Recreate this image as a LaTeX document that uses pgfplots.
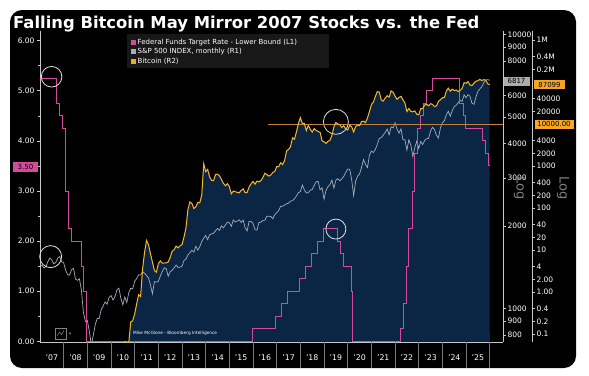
\documentclass[border=0pt]{standalone}
\usepackage{pgfplots}
\usepackage{pgfplotstable}
\pgfplotsset{compat=1.18}
\usepackage{fontspec}
\setmainfont{DejaVu Sans}
\definecolor{navy}{RGB}{11,37,69}
\definecolor{btc}{RGB}{245,184,46}
\definecolor{spx}{RGB}{168,174,182}
\definecolor{fed}{RGB}{214,74,156}
\definecolor{axisc}{RGB}{200,200,200}
\definecolor{legbg}{RGB}{24,24,24}
\definecolor{tago}{RGB}{245,166,35}
\definecolor{hline}{RGB}{196,128,62}
\pgfplotstableread[row sep=\\]{v\\
1418.3\\
1438.2\\ 1406.8\\ 1420.9\\ 1482.4\\ 1530.6\\ 1503.4\\ 1455.3\\ 1473.9\\ 1526.8\\ 1549.4\\ 1481.1\\ 1468.4\\
1378.6\\ 1330.6\\ 1322.7\\ 1385.6\\ 1400.4\\ 1280.0\\ 1267.4\\ 1282.8\\ 1166.4\\ 968.8\\ 896.2\\ 903.3\\
825.9\\ 735.1\\ 797.9\\ 872.8\\ 919.1\\ 919.3\\ 987.5\\ 1020.6\\ 1057.1\\ 1036.2\\ 1095.6\\ 1115.1\\
1073.9\\ 1104.5\\ 1169.4\\ 1186.7\\ 1089.4\\ 1030.7\\ 1101.6\\ 1049.3\\ 1141.2\\ 1183.3\\ 1180.6\\ 1257.6\\
1286.1\\ 1327.2\\ 1325.8\\ 1363.6\\ 1345.2\\ 1320.6\\ 1292.3\\ 1218.9\\ 1131.4\\ 1253.3\\ 1247.0\\ 1257.6\\
1312.4\\ 1365.7\\ 1408.5\\ 1397.9\\ 1310.3\\ 1362.2\\ 1379.3\\ 1406.6\\ 1440.7\\ 1412.2\\ 1416.2\\ 1426.2\\
1498.1\\ 1514.7\\ 1569.2\\ 1597.6\\ 1630.7\\ 1606.3\\ 1685.7\\ 1633.0\\ 1681.6\\ 1756.5\\ 1805.8\\ 1848.4\\
1782.6\\ 1859.5\\ 1872.3\\ 1883.9\\ 1923.6\\ 1960.2\\ 1930.7\\ 2003.4\\ 1972.3\\ 2018.1\\ 2067.6\\ 2058.9\\
1995.0\\ 2104.5\\ 2067.9\\ 2085.5\\ 2107.4\\ 2063.1\\ 2103.8\\ 1972.2\\ 1920.0\\ 2079.4\\ 2080.4\\ 2043.9\\
1940.2\\ 1932.2\\ 2059.7\\ 2065.3\\ 2096.9\\ 2098.9\\ 2173.6\\ 2170.9\\ 2168.3\\ 2126.2\\ 2198.8\\ 2238.8\\
2278.9\\ 2363.6\\ 2362.7\\ 2384.2\\ 2411.8\\ 2423.4\\ 2470.3\\ 2471.7\\ 2519.4\\ 2575.3\\ 2647.6\\ 2673.6\\
2823.8\\ 2713.8\\ 2640.9\\ 2648.1\\ 2705.3\\ 2718.4\\ 2816.3\\ 2901.5\\ 2914.0\\ 2711.7\\ 2760.2\\ 2506.9\\
2704.1\\ 2784.5\\ 2834.4\\ 2945.8\\ 2752.1\\ 2941.8\\ 2980.4\\ 2926.5\\ 2976.7\\ 3037.6\\ 3141.0\\ 3230.8\\
3225.5\\ 2954.2\\ 2584.6\\ 2912.4\\ 3044.3\\ 3100.3\\ 3271.1\\ 3500.3\\ 3363.0\\ 3270.0\\ 3621.6\\ 3756.1\\
3714.2\\ 3811.2\\ 3972.9\\ 4181.2\\ 4204.1\\ 4297.5\\ 4395.3\\ 4522.7\\ 4307.5\\ 4605.4\\ 4567.0\\ 4766.2\\
4515.6\\ 4373.9\\ 4530.4\\ 4131.9\\ 4132.2\\ 3785.4\\ 4130.3\\ 3955.0\\ 3585.6\\ 3872.0\\ 4080.1\\ 3839.5\\
4076.6\\ 3970.2\\ 4109.3\\ 4169.5\\ 4179.8\\ 4450.4\\ 4589.0\\ 4507.7\\ 4288.1\\ 4193.8\\ 4567.8\\ 4769.8\\
4845.7\\ 5096.3\\ 5254.4\\ 5035.7\\ 5277.5\\ 5460.5\\ 5522.3\\ 5648.4\\ 5762.5\\ 5705.5\\ 6032.4\\ 5881.6\\
6040.5\\ 5954.5\\ 5611.9\\ 5569.1\\ 5911.7\\ 6205.0\\ 6339.4\\ 6460.3\\ 6688.5\\ 6840.2\\ 6849.1\\ 6817\\
}\spx
\pgfplotstableread[row sep=\\]{v\\
0.0679\\ 0.0619\\ 0.0619\\ 0.1925\\ 0.2084\\ 0.30\\
0.52\\ 0.86\\ 0.78\\ 3.50\\ 8.74\\ 16.85\\ 13.35\\ 8.19\\ 5.14\\ 3.25\\ 2.97\\ 4.72\\
5.50\\ 4.87\\ 4.90\\ 4.95\\ 5.17\\ 6.68\\ 9.35\\ 10.16\\ 12.40\\ 11.20\\ 12.57\\ 13.45\\
20.41\\ 33.38\\ 93.03\\ 139.23\\ 128.79\\ 97.51\\ 106.21\\ 135.35\\ 133.00\\ 204.00\\ 1129.00\\ 732.00\\
829.93\\ 549.26\\ 457.00\\ 447.63\\ 627.91\\ 639.80\\ 585.00\\ 477.90\\ 386.94\\ 338.32\\ 378.05\\ 320.19\\
217.46\\ 254.26\\ 244.22\\ 236.15\\ 230.19\\ 263.07\\ 284.65\\ 230.06\\ 236.06\\ 314.17\\ 377.32\\ 430.57\\
368.77\\ 437.70\\ 416.73\\ 448.32\\ 531.39\\ 673.34\\ 624.68\\ 574.08\\ 609.74\\ 701.00\\ 742.48\\ 963.74\\
970.40\\ 1190.45\\ 1079.75\\ 1348.30\\ 2286.41\\ 2480.84\\ 2875.34\\ 4703.39\\ 4338.71\\ 6468.40\\ 10233.60\\ 14156.40\\
10221.10\\ 10397.90\\ 6973.53\\ 9240.55\\ 7494.17\\ 6404.00\\ 7780.44\\ 7037.58\\ 6625.56\\ 6317.61\\ 4017.27\\ 3742.70\\
3457.79\\ 3854.79\\ 4105.40\\ 5350.73\\ 8574.50\\ 10817.16\\ 10085.63\\ 9630.66\\ 8293.87\\ 9199.58\\ 7569.63\\ 7193.60\\
9350.53\\ 8599.51\\ 6438.64\\ 8658.55\\ 9461.06\\ 9137.99\\ 11351.89\\ 11680.82\\ 10784.49\\ 13804.81\\ 19713.73\\ 28990.08\\
33114.36\\ 45137.77\\ 58918.83\\ 57750.18\\ 37332.86\\ 35040.84\\ 41626.20\\ 47166.69\\ 43790.90\\ 61318.96\\ 57005.43\\ 46306.45\\
38483.13\\ 43193.23\\ 45538.68\\ 37714.88\\ 31792.31\\ 19784.73\\ 23336.90\\ 20049.76\\ 19431.79\\ 20495.77\\ 17168.57\\ 16547.50\\
23139.28\\ 23147.35\\ 28478.48\\ 29268.81\\ 27219.66\\ 30477.25\\ 29230.11\\ 25931.47\\ 26967.92\\ 34667.78\\ 37712.75\\ 42265.19\\
42582.61\\ 61198.38\\ 71333.65\\ 60636.86\\ 67491.41\\ 62678.29\\ 64619.25\\ 58969.90\\ 63329.50\\ 70215.19\\ 96449.05\\ 93429.20\\
102405\\ 84373\\ 82548\\ 94207\\ 104638\\ 107135\\ 115758\\ 108236\\ 114056\\ 109556\\ 90394\\ 87099\\
}\btcdata
\begin{document}
\begin{tikzpicture}
\fill[white] (0pt,0pt) rectangle (589pt,-375pt);
\fill[black, rounded corners=12pt] (10pt,-10pt) rectangle (576pt,-368pt);
\node[anchor=base west, text=white, font=\bfseries\fontsize{16.4}{18}\selectfont, inner sep=0pt] at (13pt,-28.5pt) {Falling Bitcoin May Mirror 2007 Stocks vs. the Fed};

% Bitcoin area
\begin{axis}[scale only axis, width=463pt, height=311pt, at={(40pt,-342pt)}, anchor=south west,
  xmin=2007, xmax=2026.56, ymode=log, ymin=0.06449, ymax=1.6378e6,
  hide x axis, hide y axis]
\addplot[fill=navy, draw=none] table[x expr=2010.5833+\coordindex/12, y=v] {\btcdata}
  -- (axis cs:2026,0.06) -- (axis cs:2010.5833,0.06) -- cycle;
\end{axis}

% S&P 500 (R1)
\begin{axis}[scale only axis, width=463pt, height=311pt, at={(40pt,-342pt)}, anchor=south west,
  xmin=2007, xmax=2026.56, ymode=log, ymin=754.4, ymax=10316,
  hide x axis, axis y line*=right,
  axis line style={axisc, line width=0.6pt}, tick style={axisc, line width=0.6pt},
  ytick={800,900,1000,2000,3000,4000,5000,6000,8000,9000,10000},
  yticklabels={800,900,1000,2000,3000,4000,5000,6000,8000,9000,10000},
  yminorticks=false, tick align=outside, major tick length=3pt,
  yticklabel style={font=\fontsize{7.5}{8}\selectfont, text=white, xshift=-2pt}]
\addplot[spx, line width=0.7pt] table[x expr=2007+\coordindex/12, y=v] {\spx};
\end{axis}

% Fed funds (L1)
\begin{axis}[scale only axis, width=463pt, height=311pt, at={(40pt,-342pt)}, anchor=south west,
  xmin=2007, xmax=2026.56, ymin=-0.014, ymax=6.193, clip=false,
  axis y line*=left, axis x line*=bottom,
  axis line style={axisc, line width=0.6pt}, tick style={axisc, line width=0.6pt},
  ytick={0,1,2,3,4,5,6}, yticklabels={0.00,1.00,2.00,3.00,4.00,5.00,6.00},
  minor ytick={0.5,1.5,2.5,3.5,4.5,5.5},
  tick align=outside, major tick length=3pt, minor tick length=2pt,
  yticklabel style={font=\fontsize{7.5}{8}\selectfont, text=white, xshift=1pt},
  xtick={2007.5,2008.5,...,2025.5},
  xticklabels={'07,'08,'09,'10,'11,'12,'13,'14,'15,'16,'17,'18,'19,'20,'21,'22,'23,'24,'25},
  xtick style={draw=none}, xticklabel style={font=\fontsize{7.8}{8}\selectfont, text=white, yshift=-6pt}]
\addplot[fed, line width=0.9pt, const plot] coordinates {
(2007.0,5.25)(2007.71,4.75)(2007.83,4.50)(2007.95,4.25)(2008.06,3.50)(2008.08,3.00)
(2008.21,2.25)(2008.33,2.00)(2008.77,1.50)(2008.83,1.00)(2008.96,0)(2015.96,0.25)
(2016.96,0.50)(2017.21,0.75)(2017.46,1.00)(2017.96,1.25)(2018.21,1.50)(2018.46,1.75)
(2018.74,2.00)(2018.99,2.25)(2019.58,2.00)(2019.71,1.75)(2019.83,1.50)(2020.17,1.00)
(2020.21,0)(2022.21,0.25)(2022.34,0.75)(2022.46,1.50)(2022.57,2.25)(2022.72,3.00)
(2022.84,3.75)(2022.96,4.25)(2023.09,4.50)(2023.21,4.75)(2023.34,5.00)(2023.57,5.25)
(2024.72,4.75)(2024.88,4.50)(2024.96,4.25)(2025.71,4.00)(2025.83,3.75)(2025.94,3.50)(2026.0,3.50)};
\pgfplotsinvokeforeach{2008,2009,...,2026}{\draw[axisc!60!black, line width=0.6pt] (axis cs:#1,-0.014) -- ++(0pt,-26pt);}
\draw[white!88!black, line width=0.8pt] (axis cs:2007.49,5.28) circle[radius=10.3pt];
\draw[white!88!black, line width=0.8pt] (axis cs:2007.45,1.69) circle[radius=11pt];
\draw[white!88!black, line width=0.8pt] (axis cs:2019.5,4.38) circle[radius=12.5pt];
\draw[white!88!black, line width=0.8pt] (axis cs:2019.5,2.24) circle[radius=10pt];
\end{axis}

% Bitcoin line (R2)
\begin{axis}[scale only axis, width=463pt, height=311pt, at={(40pt,-342pt)}, anchor=south west,
  xmin=2007, xmax=2026.56, ymode=log, ymin=0.06449, ymax=1.6378e6,
  hide x axis, hide y axis]
\addplot[hline, line width=0.9pt] coordinates {(2016.63,10000) (2026.56,10000)};
\addplot[btc, line width=1pt] table[x expr=2010.5833+\coordindex/12, y=v] {\btcdata};
\end{axis}

% Bitcoin axis (R2)
\begin{axis}[scale only axis, width=1pt, height=311pt, at={(531pt,-342pt)}, anchor=south west,
  xmin=0, xmax=1, ymode=log, ymin=0.06449, ymax=1.6378e6, hide x axis, axis y line*=right,
  axis line style={axisc, line width=0.6pt}, tick style={axisc, line width=0.6pt},
  ytick={0.1,0.2,0.4,1,2,4,10,20,40,100,200,400,1000,2000,4000,20000,40000,200000,400000,1000000},
  yticklabels={0.1,0.2,0.4,1.00,2.00,4,10,20,40,100,200,400,1000,2000,4000,20000,40000,0.2M,0.4M,1M},
  yminorticks=false, tick align=outside, major tick length=3pt,
  yticklabel style={font=\fontsize{7.5}{8}\selectfont, text=white, xshift=-2pt}]
\end{axis}

% legend
\fill[legbg] (127pt,-34pt) rectangle (329pt,-68pt);
\fill[fed] (131pt,-40pt) rectangle (136pt,-45pt);
\fill[spx] (131pt,-49pt) rectangle (136pt,-54pt);
\fill[tago] (131pt,-58.5pt) rectangle (136pt,-63.5pt);
\node[anchor=west, text=white, font=\fontsize{7}{8}\selectfont, inner sep=0pt] at (137.5pt,-42.7pt) {Federal Funds Target Rate - Lower Bound (L1)};
\node[anchor=west, text=white, font=\fontsize{7}{8}\selectfont, inner sep=0pt] at (137.5pt,-51.7pt) {S\&P 500 INDEX, monthly (R1)};
\node[anchor=west, text=white, font=\fontsize{7}{8}\selectfont, inner sep=0pt] at (137.5pt,-61pt) {Bitcoin (R2)};

% value tags
\node[fill=fed, text=black, font=\fontsize{7}{8}\selectfont, inner sep=0pt, minimum width=25pt, minimum height=10pt] at (25.5pt,-167pt) {3.50};
\node[fill=white!68!black, text=black, font=\fontsize{7}{8}\selectfont, inner sep=0pt, minimum width=26pt, minimum height=9pt] at (516.5pt,-81pt) {6817};
\node[fill=tago, text=black, font=\fontsize{7}{8}\selectfont, inner sep=0pt, minimum width=31pt, minimum height=9pt] at (549.5pt,-84.5pt) {87099};
\node[fill=tago, text=black, font=\fontsize{7}{8}\selectfont, inner sep=0pt, minimum width=39pt, minimum height=9pt] at (554pt,-124pt) {10000.00};

% Log labels
\node[rotate=-90, text=gray, font=\fontsize{13}{14}\selectfont] at (520pt,-188pt) {Log};
\node[rotate=-90, text=gray, font=\fontsize{13}{14}\selectfont] at (563pt,-188pt) {Log};

% footnote and icon
\node[anchor=west, text=white, font=\fontsize{4.3}{5}\selectfont, inner sep=0pt] at (133pt,-333.5pt) {Mike McGlone - Bloomberg Intelligence};
\draw[gray, line width=0.5pt] (55pt,-328pt) rectangle (66pt,-339pt);
\draw[gray, line width=0.5pt] (57pt,-336pt) -- (59.5pt,-332pt) -- (61.5pt,-334.5pt) -- (64pt,-330.5pt);
\fill[gray] (68.5pt,-332.5pt) -- (71.5pt,-332.5pt) -- (70pt,-334.5pt) -- cycle;
\end{tikzpicture}
\end{document}
